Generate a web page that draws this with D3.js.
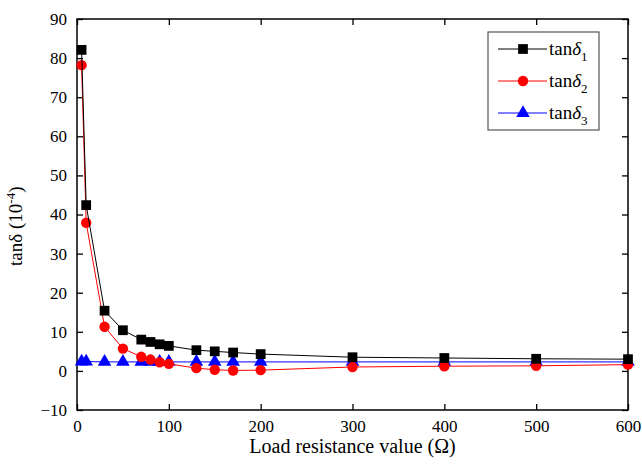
<!DOCTYPE html>
<html>
<head>
<meta charset="utf-8">
<script src="https://cdn.jsdelivr.net/npm/d3@7"></script>
<style>
  body { margin: 0; background: #fff; }
</style>
</head>
<body>
<div id="chart"></div>
<script>
  // load resistance values (ohm)
  var resistance = [5, 10, 30, 50, 70, 80, 90, 100, 130, 150, 170, 200, 300, 400, 500, 600];
  var tan1 = [82.1, 42.4, 15.4, 10.4, 8.0, 7.4, 6.8, 6.4, 5.3, 5.0, 4.7, 4.3, 3.5, 3.3, 3.1, 3.0];
  var tan2 = [78.2, 37.9, 11.3, 5.7, 3.6, 2.9, 2.2, 1.8, 0.7, 0.3, 0.1, 0.2, 1.0, 1.2, 1.3, 1.6];
  var tan3 = [2.4, 2.4, 2.3, 2.3, 2.3, 2.3, 2.3, 2.3, 2.3, 2.3, 2.3, 2.3, 2.3, 2.3, 2.3, 2.3];
  var xTicks = [0, 100, 200, 300, 400, 500, 600];
  var yTicks = [-10, 0, 10, 20, 30, 40, 50, 60, 70, 80, 90];

  var W = 642, H = 469;
  var m = {left: 77, right: 14, top: 19, bottom: 59};
  var FONT = "'Liberation Serif'";

  var svg = d3.select("#chart").append("svg")
    .attr("width", W)
    .attr("height", H);

  var x = d3.scaleLinear().domain([0, 600]).range([m.left, W - m.right]);
  var y = d3.scaleLinear().domain([-10, 90]).range([H - m.bottom, m.top]);

  var tk = 6;
  // axes, ticks pointing inward on all four sides
  svg.append("g")
    .attr("transform", "translate(0," + y(-10) + ")")
    .call(d3.axisBottom(x).tickValues(xTicks).tickSizeInner(-tk).tickSizeOuter(0).tickPadding(10));
  svg.append("g")
    .attr("transform", "translate(0," + y(90) + ")")
    .call(d3.axisTop(x).tickValues(xTicks).tickSizeInner(-tk).tickSizeOuter(0).tickFormat(""));
  svg.append("g")
    .attr("transform", "translate(" + x(0) + ",0)")
    .call(d3.axisLeft(y).tickValues(yTicks).tickSizeInner(-tk).tickSizeOuter(0).tickPadding(10));
  svg.append("g")
    .attr("transform", "translate(" + x(600) + ",0)")
    .call(d3.axisRight(y).tickValues(yTicks).tickSizeInner(-tk).tickSizeOuter(0).tickFormat(""));

  svg.selectAll("g").attr("font-family", null).attr("font-size", null);
  svg.selectAll(".domain").remove();
  svg.selectAll(".tick line").attr("stroke", "#000").attr("stroke-width", 1.3);
  svg.selectAll(".tick text")
    .style("font-family", FONT)
    .style("font-size", "17px")
    .attr("fill", "#000");

  svg.append("rect")
    .attr("x", x(0)).attr("y", y(90))
    .attr("width", x(600) - x(0)).attr("height", y(-10) - y(90))
    .attr("fill", "none").attr("stroke", "#000").attr("stroke-width", 1.5);

  var series = [
    {name: "1", vals: tan1, color: "#000000", shape: d3.symbolSquare, size: 95},
    {name: "2", vals: tan2, color: "#ff0000", shape: d3.symbolCircle, size: 85},
    {name: "3", vals: tan3, color: "#0000ff", shape: d3.symbolTriangle, size: 80}
  ];

  var line = d3.line()
    .x(function(d) { return x(d[0]); })
    .y(function(d) { return y(d[1]); });

  // draw blue first, then red, black on top
  series.slice().reverse().forEach(function(s) {
    var pts = resistance.map(function(r, i) { return [r, s.vals[i]]; });
    svg.append("path")
      .datum(pts)
      .attr("d", line)
      .attr("fill", "none")
      .attr("stroke", s.color)
      .attr("stroke-width", 1);
    svg.append("g").selectAll("path")
      .data(pts)
      .enter().append("path")
      .attr("transform", function(d) { return "translate(" + x(d[0]) + "," + y(d[1]) + ")"; })
      .attr("d", d3.symbol().type(s.shape).size(s.size))
      .attr("fill", s.color);
  });

  // legend
  var lg = svg.append("g").attr("transform", "translate(488,32)");
  lg.append("rect")
    .attr("width", 111).attr("height", 98)
    .attr("fill", "#fff").attr("stroke", "#555").attr("stroke-width", 1.2);
  series.forEach(function(s, i) {
    var yy = 17 + i * 32;
    lg.append("line")
      .attr("x1", 10).attr("x2", 59).attr("y1", yy).attr("y2", yy)
      .attr("stroke", s.color).attr("stroke-width", 1);
    lg.append("path")
      .attr("transform", "translate(35," + yy + ")")
      .attr("d", d3.symbol().type(s.shape).size(s.size))
      .attr("fill", s.color);
    var t = lg.append("text")
      .attr("x", 61).attr("y", yy + 6)
      .style("font-family", FONT)
      .style("font-size", "19px");
    t.append("tspan").text("tan");
    t.append("tspan").style("font-style", "italic").text("δ");
    t.append("tspan").attr("dy", 6).style("font-size", "13px").text(s.name);
  });

  // axis titles
  svg.append("text")
    .attr("x", (x(0) + x(600)) / 2)
    .attr("y", 453)
    .attr("text-anchor", "middle")
    .style("font-family", FONT)
    .style("font-size", "20px")
    .text("Load resistance value (Ω)");

  var yt = svg.append("text")
    .attr("transform", "translate(22," + y(37) + ") rotate(-90)")
    .attr("text-anchor", "middle")
    .style("font-family", FONT)
    .style("font-size", "19px");
  yt.append("tspan").text("tanδ (10");
  yt.append("tspan").attr("dy", -7).style("font-size", "13px").text("-4");
  yt.append("tspan").attr("dy", 7).text(")");
</script>
</body>
</html>
